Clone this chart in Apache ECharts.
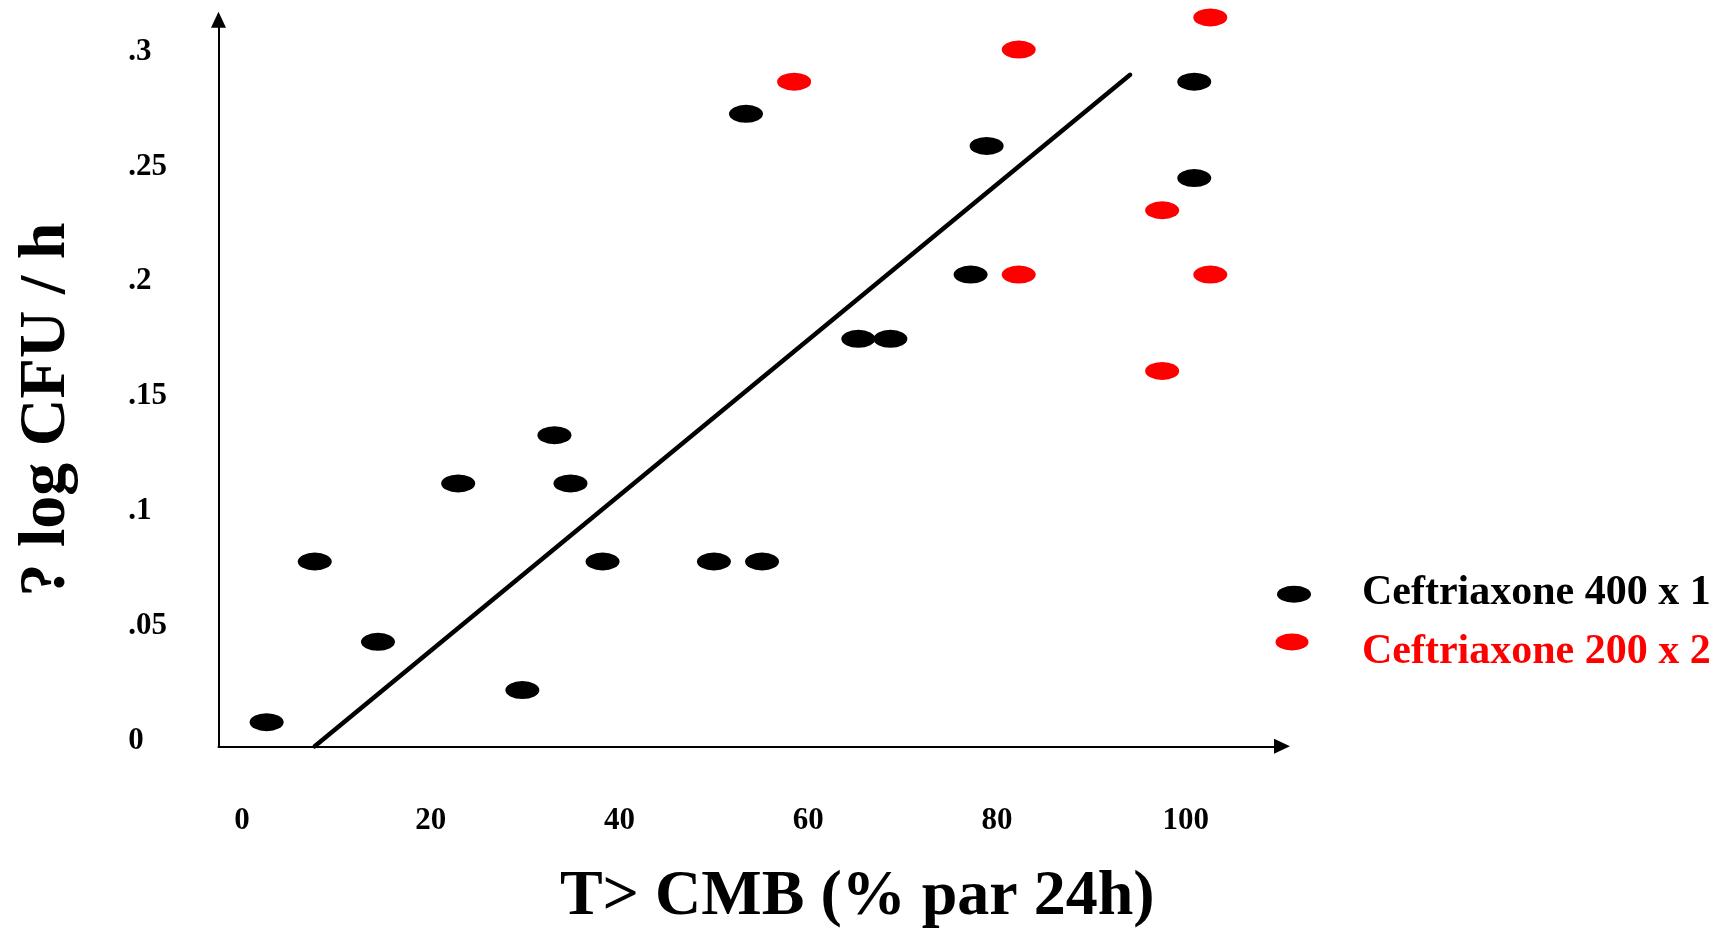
<!DOCTYPE html>
<html>
<head>
<meta charset="utf-8">
<script src="https://cdn.jsdelivr.net/npm/echarts@6/dist/echarts.min.js"></script>
<style>
  html, body { margin: 0; padding: 0; background: #ffffff; }
  #chart { width: 1722px; height: 931px; }
</style>
</head>
<body>
<div id="chart"></div>
<script>
// Bacterial kill rate against time above MBC, two ceftriaxone regimens
const SERIES_400 = 'Ceftriaxone 400 x 1';
const SERIES_200 = 'Ceftriaxone 200 x 2';

const dose400X = [2.6, 7.7, 14.4, 22.9, 29.7, 33.1, 34.8, 38.2, 50.0, 53.4, 55.1, 65.3, 68.7, 77.2, 78.9, 100.9, 100.9];
const dose400Y = [0.008, 0.078, 0.043, 0.112, 0.022, 0.133, 0.112, 0.078, 0.078, 0.273, 0.078, 0.175, 0.175, 0.203, 0.259, 0.287, 0.245];

const dose200X = [58.5, 82.3, 102.6, 97.5, 82.3, 102.6, 97.5];
const dose200Y = [0.287, 0.301, 0.315, 0.231, 0.203, 0.203, 0.161];

// regression line end points
const fitX = [7.7, 94.1];
const fitY = [-0.0025, 0.290];

const xTicks = [0, 20, 40, 60, 80, 100];
const yTicks = [0, 0.05, 0.1, 0.15, 0.2, 0.25, 0.3];
const yTickLabels = ['0', '.05', '.1', '.15', '.2', '.25', '.3'];

const FONT = "'Liberation Serif', 'Times New Roman', serif";
const ELLIPSE = 'path://M0,1A1,1,0,1,1,2,1A1,1,0,1,1,0,1Z';

function zip(xs, ys) { return xs.map((x, i) => [x, ys[i]]); }

function legendText(color) {
  return {
    fontFamily: FONT, fontWeight: 'bold', fontSize: 42, lineHeight: 42, color: color
  };
}

const chart = echarts.init(document.getElementById('chart'), null, { renderer: 'canvas' });

chart.setOption({
  animation: false,
  backgroundColor: '#ffffff',
  grid: {
    left: 218.5, top: 19.7, width: 1063.5, height: 726.6,
    containLabel: false, outerBoundsMode: 'none'
  },
  xAxis: {
    type: 'value',
    min: -2.5,
    max: 110.2,
    axisLine: {
      show: true, onZero: false,
      symbol: ['none', 'triangle'], symbolSize: [15, 16],
      lineStyle: { color: '#000', width: 2 }
    },
    axisTick: { show: false },
    splitLine: { show: false },
    axisLabel: {
      customValues: xTicks,
      color: '#000', fontFamily: FONT, fontWeight: 'bold', fontSize: 31,
      margin: 75, verticalAlign: 'middle'
    },
    name: 'T> CMB (% par 24h)',
    nameLocation: 'middle',
    nameGap: 151,
    nameTextStyle: {
      color: '#000', fontFamily: FONT, fontWeight: 'bold', fontSize: 64,
      align: 'center', verticalAlign: 'middle', padding: [0, 0, 0, 214]
    }
  },
  yAxis: {
    type: 'value',
    min: -0.0025,
    max: 0.314,
    axisLine: {
      show: true, onZero: false,
      symbol: ['none', 'triangle'], symbolSize: [15, 16],
      lineStyle: { color: '#000', width: 2 }
    },
    axisTick: { show: false },
    splitLine: { show: false },
    axisLabel: {
      customValues: yTicks,
      formatter: function (v) {
        let best = 0;
        yTicks.forEach((t, i) => { if (Math.abs(t - v) < Math.abs(yTicks[best] - v)) best = i; });
        return yTickLabels[best];
      },
      color: '#000', fontFamily: FONT, fontWeight: 'bold', fontSize: 31,
      align: 'left', margin: 90.2
    },
    name: '? log CFU / h',
    nameLocation: 'middle',
    nameRotate: 90,
    nameGap: 172,
    nameTextStyle: {
      color: '#000', fontFamily: FONT, fontWeight: 'bold', fontSize: 66,
      align: 'center', verticalAlign: 'middle', padding: [0, 53, 0, 0]
    }
  },
  legend: [
    {
      data: [{ name: SERIES_400 }],
      orient: 'vertical', left: 1277, top: 571.8, padding: 0,
      itemWidth: 34, itemHeight: 17, icon: ELLIPSE, symbolKeepAspect: false,
      selectedMode: false,
      itemStyle: { borderWidth: 0, opacity: 1 },
      formatter: '{t|{name}}',
      textStyle: {
        padding: [0, 0, 3, 46],
        rich: { t: legendText('#000000') }
      }
    },
    {
      data: [{ name: SERIES_200 }],
      orient: 'vertical', left: 1275.5, top: 631, padding: 0,
      itemWidth: 33, itemHeight: 17, icon: ELLIPSE, symbolKeepAspect: false,
      selectedMode: false,
      itemStyle: { borderWidth: 0, opacity: 1 },
      formatter: '{t|{name}}',
      textStyle: {
        padding: [20, 0, 0, 48.5],
        rich: { t: legendText('#ff0000') }
      }
    }
  ],
  series: [
    {
      name: 'fit',
      type: 'line',
      data: zip(fitX, fitY),
      symbol: 'none',
      silent: true,
      clip: false,
      z: 2,
      lineStyle: { color: '#000', width: 4.5, cap: 'round' }
    },
    {
      name: SERIES_400,
      type: 'scatter',
      data: zip(dose400X, dose400Y),
      symbol: ELLIPSE,
      symbolSize: [34, 18],
      clip: false,
      z: 3,
      itemStyle: { color: '#000000', opacity: 1 }
    },
    {
      name: SERIES_200,
      type: 'scatter',
      data: zip(dose200X, dose200Y),
      symbol: ELLIPSE,
      symbolSize: [34, 18],
      clip: false,
      z: 3,
      itemStyle: { color: '#ff0000', opacity: 1 }
    }
  ]
});
</script>
</body>
</html>
